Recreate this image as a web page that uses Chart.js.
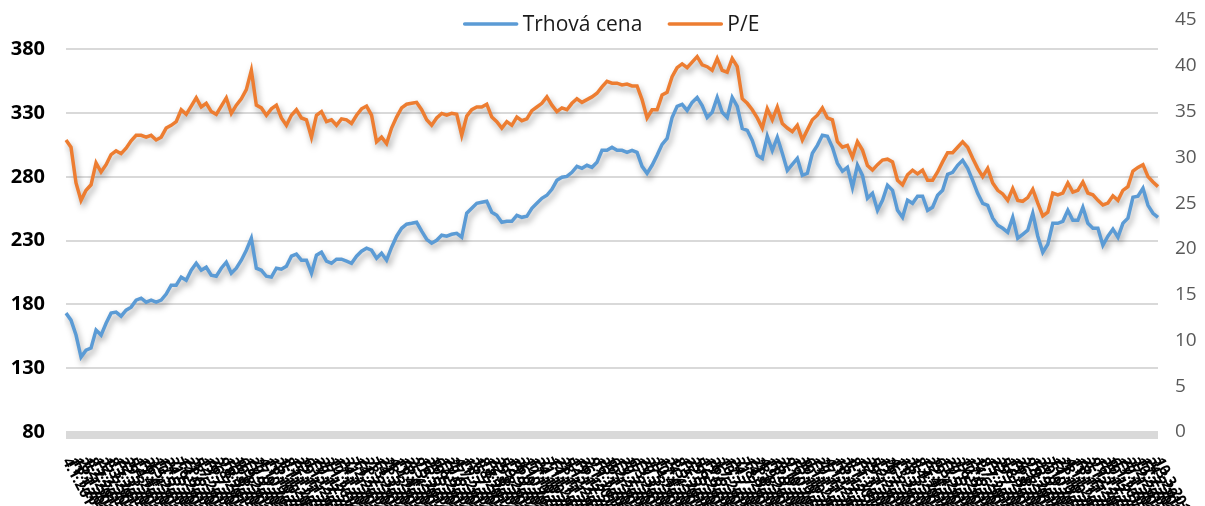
<!DOCTYPE html>
<html>
<head>
<meta charset="utf-8">
<script src="https://cdn.jsdelivr.net/npm/chart.js@4"></script>
<style>
  html, body { margin: 0; padding: 0; background: #fff; }
  #wrap { width: 1205px; height: 506px; }
</style>
</head>
<body>
<div id="wrap"><canvas id="chart" width="1205" height="506"></canvas></div>
<script>
// týdenní data: tržní cena (levá osa) a P/E (pravá osa)
const seriesNames = ["Trhová cena", "P/E"];
const firstWeek = "2013-01-04";

const price = [
  173.2, 167.7, 156.0, 138.7, 144.2, 145.8, 159.9, 156.0, 165.3, 173.2, 174.0, 170.8,
  175.5, 177.9, 183.4, 184.9, 181.8, 183.4, 181.8, 183.4, 188.1, 195.1, 195.1, 201.4,
  199.0, 206.8, 212.3, 206.8, 209.2, 202.9, 202.1, 208.4, 213.1, 204.5, 208.4, 214.7,
  222.5, 231.9, 208.4, 206.8, 202.1, 201.4, 208.4, 207.6, 210.0, 217.8, 219.4, 214.7,
  214.7, 204.5, 218.6, 220.9, 213.9, 212.3, 215.5, 215.5, 213.9, 212.3, 217.8, 221.7,
  224.1, 222.5, 216.2, 220.2, 214.7, 224.9, 233.5, 239.7, 242.9, 243.6, 244.4, 237.4,
  231.1, 228.0, 230.3, 234.3, 233.5, 235.0, 235.8, 232.7, 251.5, 255.4, 259.3, 260.1,
  260.9, 252.3, 249.9, 244.4, 245.2, 245.2, 249.9, 248.3, 249.1, 255.4, 259.3, 263.2,
  265.6, 270.3, 277.3, 279.7, 280.4, 283.6, 288.3, 286.7, 289.1, 287.5, 291.4, 300.8,
  300.8, 303.2, 300.8, 300.8, 299.2, 300.8, 299.2, 288.3, 282.8, 289.1, 296.9, 305.5,
  310.2, 326.6, 335.3, 336.8, 332.1, 338.4, 342.3, 336.0, 326.6, 330.6, 342.3, 330.6,
  326.6, 342.3, 335.3, 318.0, 316.5, 308.6, 296.9, 294.5, 311.8, 300.8, 311.0, 298.5,
  285.1, 289.8, 294.5, 281.2, 282.8, 298.5, 304.7, 312.6, 311.8, 303.2, 290.6, 284.4,
  287.5, 271.8, 289.1, 281.2, 263.2, 267.1, 253.8, 261.7, 273.4, 269.5, 253.8, 248.3,
  261.7, 259.3, 264.8, 264.8, 253.8, 256.2, 265.6, 269.5, 282.0, 283.6, 289.1, 293.0,
  286.7, 277.3, 267.1, 259.3, 257.7, 247.6, 242.1, 239.7, 236.6, 248.3, 231.9, 235.0,
  238.2, 251.5, 233.5, 220.9, 227.2, 243.6, 243.6, 245.2, 253.8, 246.0, 246.0, 256.2,
  243.6, 239.7, 239.7, 226.4, 233.5, 239.0, 232.7, 243.6, 247.6, 264.0, 264.8, 271.1,
  257.7, 251.5, 248.3
];

const pe = [
  31.9, 31.1, 27.2, 25.3, 26.4, 27.0, 29.4, 28.4, 29.2, 30.3, 30.7, 30.4,
  31.0, 31.8, 32.4, 32.4, 32.2, 32.4, 31.9, 32.2, 33.2, 33.5, 33.9, 35.2,
  34.7, 35.6, 36.5, 35.5, 35.9, 35.0, 34.7, 35.6, 36.5, 34.8, 35.7, 36.4,
  37.4, 39.5, 35.7, 35.4, 34.6, 35.3, 35.7, 34.3, 33.5, 34.6, 35.2, 34.3,
  34.1, 32.2, 34.6, 35.0, 33.9, 34.1, 33.5, 34.2, 34.1, 33.7, 34.6, 35.3,
  35.6, 34.6, 31.7, 32.2, 31.5, 33.2, 34.4, 35.4, 35.8, 35.9, 36.0, 35.2,
  34.1, 33.5, 34.3, 34.8, 34.6, 34.8, 34.7, 32.4, 34.5, 35.2, 35.5, 35.5,
  35.8, 34.4, 33.9, 33.2, 33.9, 33.5, 34.4, 34.0, 34.2, 35.1, 35.5, 35.9,
  36.6, 35.7, 35.0, 35.4, 35.2, 35.9, 36.4, 36.0, 36.3, 36.6, 37.0, 37.7,
  38.3, 38.1, 38.1, 37.9, 38.0, 37.8, 37.8, 36.3, 34.3, 35.2, 35.2, 36.8,
  37.1, 38.8, 39.8, 40.2, 39.8, 40.4, 41.0, 40.1, 39.9, 39.5, 40.8, 39.5,
  39.3, 40.8, 39.9, 36.4, 35.9, 35.2, 34.3, 33.2, 35.3, 34.1, 35.5, 33.7,
  33.2, 32.8, 33.5, 31.9, 33.0, 34.1, 34.6, 35.4, 34.3, 34.1, 31.7, 31.1,
  31.3, 30.0, 31.7, 30.8, 29.1, 28.6, 29.2, 29.7, 29.8, 29.5, 27.5, 27.0,
  28.1, 28.6, 28.2, 28.6, 27.5, 27.5, 28.4, 29.5, 30.5, 30.5, 31.1, 31.7,
  31.1, 29.9, 28.8, 27.9, 28.8, 27.2, 26.4, 26.0, 25.3, 26.6, 25.3, 25.2,
  25.6, 26.5, 25.0, 23.6, 24.0, 26.1, 25.9, 26.1, 27.2, 26.2, 26.4, 27.3,
  26.1, 25.9, 25.3, 24.8, 25.0, 25.8, 25.3, 26.4, 26.8, 28.5, 28.9, 29.2,
  27.9, 27.3, 26.8
];

const leftTicks = [80, 130, 180, 230, 280, 330, 380];
const rightTicks = [0, 5, 10, 15, 20, 25, 30, 35, 40, 45];

// popisky osy x: data po týdnech (d.m.rrrr)
const labels = [];
{
  const d = new Date(firstWeek + "T00:00:00");
  for (let i = 0; i < price.length; i++) {
    labels.push(d.getDate() + "." + (d.getMonth() + 1) + "." + d.getFullYear());
    d.setDate(d.getDate() + 7);
  }
}

const FONT = "'Open Sans', 'Noto Sans', sans-serif";

// stín pod čarami jako v Excelu
const shadowPlugin = {
  id: "lineShadow",
  beforeDatasetDraw(chart) {
    const ctx = chart.ctx;
    ctx.save();
    ctx.shadowColor = "rgba(0,0,0,0.35)";
    ctx.shadowBlur = 6;
    ctx.shadowOffsetX = 2;
    ctx.shadowOffsetY = 4;
  },
  afterDatasetDraw(chart) {
    chart.ctx.restore();
  },
};

// šedý pruh osy x
const axisBandPlugin = {
  id: "axisBand",
  beforeDatasetsDraw(chart) {
    const { ctx, chartArea } = chart;
    ctx.save();
    ctx.fillStyle = "#d9d9d9";
    ctx.fillRect(chartArea.left, chartArea.bottom - 1, chartArea.right - chartArea.left, 8);
    ctx.restore();
  },
};

// šikmé popisky osy x (text jde dolů doprava)
const xLabelsPlugin = {
  id: "xLabels",
  afterDraw(chart) {
    const sc = chart.scales.x;
    const ctx = chart.ctx;
    ctx.save();
    ctx.font = "bold 15px " + FONT;
    ctx.fillStyle = "#000";
    ctx.textAlign = "left";
    ctx.textBaseline = "middle";
    labels.forEach((lab, i) => {
      const x = sc.getPixelForValue(i);
      ctx.save();
      ctx.translate(x, sc.top + 27);
      ctx.rotate((62 * Math.PI) / 180);
      ctx.fillText(lab, 0, 0);
      ctx.restore();
    });
    ctx.restore();
  },
};

// legenda nahoře uprostřed, přes plochu grafu
const legendPlugin = {
  id: "topLegend",
  afterDraw(chart) {
    const ctx = chart.ctx;
    const ds = chart.data.datasets;
    const lineLen = 52, gap = 6, itemGap = 27, y = 24;
    ctx.save();
    ctx.font = "21px " + FONT;
    const widths = ds.map((d) => lineLen + gap + ctx.measureText(d.label).width);
    const total = widths.reduce((a, b) => a + b, 0) + itemGap * (ds.length - 1);
    let x = (chart.chartArea.left + chart.chartArea.right) / 2 - total / 2;
    ds.forEach((d, i) => {
      ctx.strokeStyle = d.borderColor;
      ctx.lineWidth = 3.5;
      ctx.lineCap = "round";
      ctx.beginPath();
      ctx.moveTo(x, y);
      ctx.lineTo(x + lineLen, y);
      ctx.stroke();
      ctx.fillStyle = "#1a1a1a";
      ctx.textAlign = "left";
      ctx.textBaseline = "middle";
      ctx.fillText(d.label, x + lineLen + gap, y + 1);
      x += widths[i] + itemGap;
    });
    ctx.restore();
  },
};

// svislé osy: pevná šířka a bez extra okraje od popisků
function fixYAxis(width) {
  return (s) => {
    s.width = width;
    s.paddingTop = 0;
    s.paddingBottom = 0;
  };
}

new Chart(document.getElementById("chart"), {
  type: "line",
  data: {
    labels,
    datasets: [
      {
        label: seriesNames[0],
        data: price,
        yAxisID: "y",
        borderColor: "#5b9bd5",
        backgroundColor: "#5b9bd5",
        borderWidth: 3.5,
        pointRadius: 0,
        tension: 0,
        order: 1,
      },
      {
        label: seriesNames[1],
        data: pe,
        yAxisID: "y1",
        borderColor: "#ed7d31",
        backgroundColor: "#ed7d31",
        borderWidth: 3.5,
        pointRadius: 0,
        tension: 0,
        order: 0,
      },
    ],
  },
  options: {
    responsive: false,
    animation: false,
    layout: { padding: { top: 20, left: 0, right: 0, bottom: 0 } },
    plugins: {
      legend: { display: false },
      tooltip: { enabled: false },
    },
    scales: {
      x: {
        type: "category",
        offset: false,
        grid: { display: false },
        border: { display: false },
        ticks: { display: false },
        afterFit: (s) => { s.height = 74; },
      },
      y: {
        position: "left",
        min: 80,
        max: 403,
        afterBuildTicks: (s) => { s.ticks = leftTicks.map((v) => ({ value: v })); },
        afterFit: fixYAxis(66),
        grid: { color: "#d9d9d9", lineWidth: 2, drawTicks: false },
        border: { display: false },
        ticks: {
          padding: 21,
          color: "#000",
          font: { family: FONT, size: 20, weight: "bold" },
        },
      },
      y1: {
        position: "right",
        min: 0,
        max: 45,
        afterBuildTicks: (s) => { s.ticks = rightTicks.map((v) => ({ value: v })); },
        afterFit: fixYAxis(47),
        grid: { display: false, drawTicks: false },
        border: { display: false },
        ticks: {
          padding: 17,
          color: "#595959",
          font: { family: FONT, size: 19 },
        },
      },
    },
  },
  plugins: [shadowPlugin, axisBandPlugin, xLabelsPlugin, legendPlugin],
});
</script>
</body>
</html>
